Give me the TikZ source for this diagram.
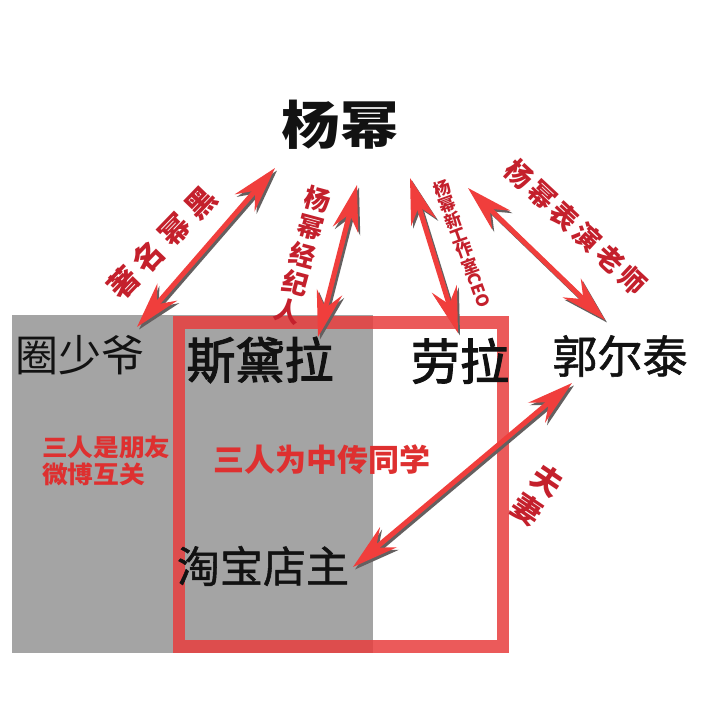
\documentclass[tikz,border=0pt]{standalone}
\usepackage{fontspec}
\usepackage{graphicx}
\usetikzlibrary{arrows.meta}
\newfontfamily\cjk{Noto Sans CJK SC}
\newfontfamily\cjkm[FakeBold=1.2]{Noto Sans CJK SC}
\newfontfamily\cjkh[FakeBold=2.2]{Noto Sans CJK SC}
\newcommand\uprt[1]{\rotatebox[origin=c]{90}{#1}}
\definecolor{bggray}{RGB}{164,164,164}
\definecolor{framered}{RGB}{232,62,62}
\definecolor{arrred}{RGB}{240,62,60}
\definecolor{shadowgray}{RGB}{100,96,96}
\definecolor{txtred}{RGB}{222,48,48}
\definecolor{lblred}{RGB}{196,32,44}
\definecolor{ink}{RGB}{18,18,18}
\tikzset{
  person/.style={inner sep=0pt, text=ink, font=\cjk\fontsize{#1}{#1}\selectfont},
  personm/.style={inner sep=0pt, text=ink, font=\cjkm\fontsize{#1}{#1}\selectfont},
  personh/.style={inner sep=0pt, text=ink, font=\cjkh\fontsize{#1}{#1}\selectfont},
  personb/.style={inner sep=0pt, text=ink, font=\cjk\bfseries\fontsize{#1}{#1}\selectfont},
  redtext/.style={inner sep=0pt, text=txtred, font=\cjk\bfseries\fontsize{#1}{#1}\selectfont},
  lbl/.style={inner sep=0pt, text=lblred, font=\cjk\bfseries\fontsize{#1}{#1}\selectfont},
  dbl/.style={line width=5pt,
    {Stealth[length=46pt,width=26pt,inset=16pt]}-{Stealth[length=46pt,width=26pt,inset=16pt]}},
}
\newcommand\dblarrow[2]{%
  \draw[dbl, shadowgray, transform canvas={xshift=2pt,yshift=-2.5pt}] (#1) -- (#2);
  \draw[dbl, arrred] (#1) -- (#2);}
\begin{document}
\begin{tikzpicture}[x=1pt,y=-1pt]
\path[use as bounding box] (0,0) rectangle (720,703);
\fill[white] (0,0) rectangle (720,703);
% panels
\fill[bggray] (12,315) rectangle (373,653);
\draw[framered, line width=12.5pt, opacity=0.85] (179,322.5) rectangle (503,646.5);
% people
\node[personb=52, xscale=1.12] (ym) at (340,125) {杨幂};
\node[person=43] (qsy) at (80,355) {圈少爷};
\node[personh=49] (sdl) at (260,360) {斯黛拉};
\node[personh=49] (ll) at (460,361) {劳拉};
\node[personm=45] (get) at (620,356) {郭尔泰};
\node[personm=43] (tbdz) at (263,566) {淘宝店主};
% group texts
\node[redtext=24, anchor=west, xscale=1.07] (pyA) at (42,447) {三人是朋友};
\node[redtext=24, anchor=west, xscale=1.07] (pyB) at (42,474) {微博互关};
\node[redtext=31] (tx) at (322,460) {三人为中传同学};
% arrow labels
\node[lbl=30, rotate=46] (l1) at (162,243) {著\hspace{7pt}名\hspace{7pt}幂\hspace{7pt}黑};
\node[lbl=26, rotate=-15, align=center, font=\cjk\bfseries\fontsize{26}{29}\selectfont] (l2) at (303,255) {杨\\幂\\经\\纪\\人};
\node[lbl=17, rotate=-70] (l3) at (462,244) {\uprt{杨}\hspace{1pt}\uprt{幂}\hspace{1pt}\uprt{新}\hspace{1pt}\uprt{工}\hspace{1pt}\uprt{作}\hspace{1pt}\uprt{室}CEO};
\node[lbl=27, rotate=-43] (l4) at (576,227) {杨\hspace{4pt}幂\hspace{4pt}表\hspace{4pt}演\hspace{4pt}老\hspace{4pt}师};
\node[lbl=30, rotate=-34, align=center, font=\cjk\bfseries\fontsize{30}{36}\selectfont] (l5) at (537,495) {夫\\妻};
% arrow end points
\coordinate (a1) at (137,327); \coordinate (b1) at (275,168);
\coordinate (a2) at (318,337); \coordinate (b2) at (357,185);
\coordinate (a3) at (458,333); \coordinate (b3) at (410,178);
\coordinate (a4) at (605,320); \coordinate (b4) at (468,188);
\coordinate (a5) at (572,383); \coordinate (b5) at (353,567);
\dblarrow{a1}{b1}
\dblarrow{a2}{b2}
\dblarrow{a3}{b3}
\dblarrow{a4}{b4}
\dblarrow{a5}{b5}
\end{tikzpicture}
\end{document}
